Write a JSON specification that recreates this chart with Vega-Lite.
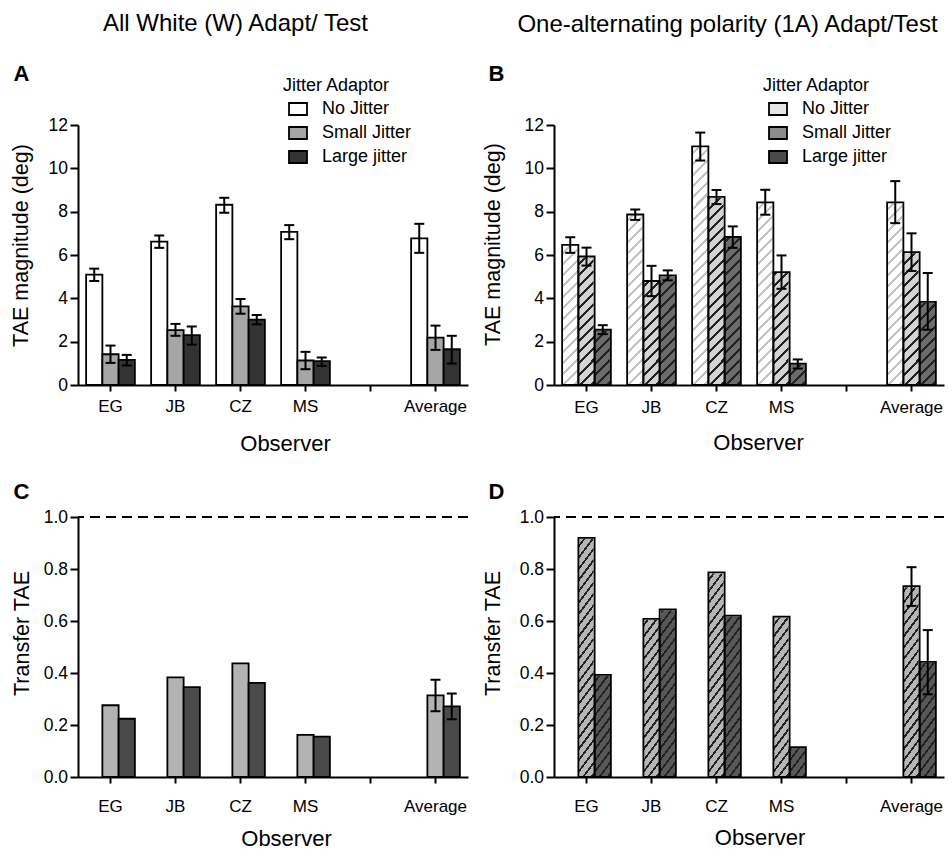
{
  "$schema": "https://vega.github.io/schema/vega-lite/v6.json",
  "autosize": {"type": "none"},
  "padding": {"left": 78, "top": 125, "right": 874, "bottom": 726},
  "bounds": "flush",
  "columns": 2,
  "spacing": {"row": 132, "column": 86},
  "resolve": {"scale": {"fill": "independent"}, "legend": {"fill": "independent"}},
  "config": {
    "font": "Liberation Sans",
    "view": {"stroke": null},
    "axis": {"domainColor": "black", "domainWidth": 2, "tickColor": "black", "tickWidth": 2, "labelColor": "black", "titleColor": "black", "grid": false, "titleFontWeight": "normal", "labelOverlap": false},
    "legend": {"titleColor": "black", "labelColor": "black", "titleFontSize": 18, "titleFontWeight": "normal", "labelFontSize": 18, "symbolType": "M-1,-0.667H1V0.667H-1Z", "symbolSize": 324, "symbolStrokeColor": "black", "symbolStrokeWidth": 1.8, "rowPadding": 4, "labelOffset": 14, "titlePadding": 4, "padding": 0, "symbolOffset": 5}
  },
  "datasets": {
    "A": [
      {"obs": "EG", "cond": "No Jitter", "value": 5.09, "lo": 4.8, "hi": 5.37},
      {"obs": "EG", "cond": "Small Jitter", "value": 1.42, "lo": 1.02, "hi": 1.82},
      {"obs": "EG", "cond": "Large jitter", "value": 1.16, "lo": 0.9, "hi": 1.39},
      {"obs": "JB", "cond": "No Jitter", "value": 6.62, "lo": 6.33, "hi": 6.9},
      {"obs": "JB", "cond": "Small Jitter", "value": 2.53, "lo": 2.27, "hi": 2.82},
      {"obs": "JB", "cond": "Large jitter", "value": 2.3, "lo": 1.86, "hi": 2.7},
      {"obs": "CZ", "cond": "No Jitter", "value": 8.32, "lo": 7.95, "hi": 8.64},
      {"obs": "CZ", "cond": "Small Jitter", "value": 3.63, "lo": 3.29, "hi": 3.97},
      {"obs": "CZ", "cond": "Large jitter", "value": 3.02, "lo": 2.8, "hi": 3.23},
      {"obs": "MS", "cond": "No Jitter", "value": 7.07, "lo": 6.73, "hi": 7.38},
      {"obs": "MS", "cond": "Small Jitter", "value": 1.13, "lo": 0.73, "hi": 1.53},
      {"obs": "MS", "cond": "Large jitter", "value": 1.1, "lo": 0.88, "hi": 1.27},
      {"obs": "Average", "cond": "No Jitter", "value": 6.77, "lo": 6.1, "hi": 7.44},
      {"obs": "Average", "cond": "Small Jitter", "value": 2.19, "lo": 1.62, "hi": 2.74},
      {"obs": "Average", "cond": "Large jitter", "value": 1.65, "lo": 0.99, "hi": 2.27}
    ],
    "B": [
      {"obs": "EG", "cond": "No Jitter", "value": 6.47, "lo": 6.1, "hi": 6.82},
      {"obs": "EG", "cond": "Small Jitter", "value": 5.93, "lo": 5.51, "hi": 6.34},
      {"obs": "EG", "cond": "Large jitter", "value": 2.55, "lo": 2.35, "hi": 2.76},
      {"obs": "JB", "cond": "No Jitter", "value": 7.87, "lo": 7.62, "hi": 8.1},
      {"obs": "JB", "cond": "Small Jitter", "value": 4.8, "lo": 4.1, "hi": 5.5},
      {"obs": "JB", "cond": "Large jitter", "value": 5.06, "lo": 4.83, "hi": 5.29},
      {"obs": "CZ", "cond": "No Jitter", "value": 11.01, "lo": 10.36, "hi": 11.65},
      {"obs": "CZ", "cond": "Small Jitter", "value": 8.68, "lo": 8.35, "hi": 9.0},
      {"obs": "CZ", "cond": "Large jitter", "value": 6.83, "lo": 6.33, "hi": 7.32},
      {"obs": "MS", "cond": "No Jitter", "value": 8.43, "lo": 7.86, "hi": 9.01},
      {"obs": "MS", "cond": "Small Jitter", "value": 5.21, "lo": 4.44, "hi": 5.98},
      {"obs": "MS", "cond": "Large jitter", "value": 0.98, "lo": 0.76, "hi": 1.18},
      {"obs": "Average", "cond": "No Jitter", "value": 8.43, "lo": 7.47, "hi": 9.41},
      {"obs": "Average", "cond": "Small Jitter", "value": 6.13, "lo": 5.26, "hi": 7.0},
      {"obs": "Average", "cond": "Large jitter", "value": 3.84, "lo": 2.55, "hi": 5.17}
    ],
    "C": [
      {"obs": "EG", "cond": "Small Jitter", "value": 0.276},
      {"obs": "EG", "cond": "Large jitter", "value": 0.224},
      {"obs": "JB", "cond": "Small Jitter", "value": 0.383},
      {"obs": "JB", "cond": "Large jitter", "value": 0.346},
      {"obs": "CZ", "cond": "Small Jitter", "value": 0.437},
      {"obs": "CZ", "cond": "Large jitter", "value": 0.362},
      {"obs": "MS", "cond": "Small Jitter", "value": 0.162},
      {"obs": "MS", "cond": "Large jitter", "value": 0.155},
      {"obs": "Average", "cond": "Small Jitter", "value": 0.314, "lo": 0.253, "hi": 0.374},
      {"obs": "Average", "cond": "Large jitter", "value": 0.272, "lo": 0.222, "hi": 0.321}
    ],
    "D": [
      {"obs": "EG", "cond": "Small Jitter", "value": 0.92},
      {"obs": "EG", "cond": "Large jitter", "value": 0.393},
      {"obs": "JB", "cond": "Small Jitter", "value": 0.608},
      {"obs": "JB", "cond": "Large jitter", "value": 0.645},
      {"obs": "CZ", "cond": "Small Jitter", "value": 0.787},
      {"obs": "CZ", "cond": "Large jitter", "value": 0.621},
      {"obs": "MS", "cond": "Small Jitter", "value": 0.617},
      {"obs": "MS", "cond": "Large jitter", "value": 0.115},
      {"obs": "Average", "cond": "Small Jitter", "value": 0.734, "lo": 0.658, "hi": 0.807},
      {"obs": "Average", "cond": "Large jitter", "value": 0.443, "lo": 0.318, "hi": 0.565}
    ]
  },
  "concat": [
    {
      "data": {"name": "A"},
      "width": 390,
      "height": 260,
      "layer": [
        {
          "mark": {"type": "bar", "stroke": "black", "strokeWidth": 1.8},
          "encoding": {
            "x": {"field": "obs", "type": "nominal", "scale": {"domain": ["EG", "JB", "CZ", "MS", "gap", "Average"], "paddingInner": 0, "paddingOuter": 0},
              "axis": {"title": "Observer", "titleFontSize": 22, "titleX": 207, "titleY": 65, "titleAlign": "center", "titleBaseline": "alphabetic", "labelFontSize": 17, "labelAngle": 0, "labelBaseline": "alphabetic", "labelPadding": 20.5, "tickSize": 6, "labelExpr": "datum.value == 'gap' ? '' : datum.value"}},
            "xOffset": {"field": "cond", "type": "nominal", "scale": {"domain": ["No Jitter", "Small Jitter", "Large jitter"], "paddingOuter": 0.5, "paddingInner": 0}},
            "y": {"field": "value", "type": "quantitative", "scale": {"domain": [0, 12], "nice": false},
              "axis": {"title": "TAE magnitude (deg)", "titleFontSize": 21.5, "titleAngle": -90, "titleAlign": "center", "titleBaseline": "alphabetic", "titleX": -51, "titleY": 120, "values": [0, 2, 4, 6, 8, 10, 12], "labelFontSize": 17.5, "labelPadding": 2.5, "tickSize": 8}},
            "fill": {"field": "cond", "type": "nominal", "scale": {"domain": ["No Jitter", "Small Jitter", "Large jitter"], "range": ["#ffffff", "#a6a6a6", "#333333"]},
              "legend": {"title": "Jitter Adaptor", "orient": "none", "legendX": 205, "legendY": -48}}
          }
        },
        {
          "mark": {"type": "rule", "strokeWidth": 2, "color": "black"},
          "encoding": {
            "x": {"field": "obs", "type": "nominal", "axis": {"orient": "top", "title": "All White (W) Adapt/ Test", "domain": false, "ticks": false, "labels": false, "titleFontSize": 24, "titleAlign": "center", "titleBaseline": "alphabetic", "titleX": 157, "titleY": -95}},
            "xOffset": {"field": "cond", "type": "nominal"},
            "y": {"field": "lo", "type": "quantitative", "axis": {"orient": "right", "title": "A", "domain": false, "ticks": false, "labels": false, "titleAngle": 0, "titleFontSize": 22, "titleFontWeight": "bold", "titleAlign": "left", "titleBaseline": "alphabetic", "titleX": -455, "titleY": -45}},
            "y2": {"field": "hi"}
          }
        },
        {
          "mark": {"type": "tick", "orient": "horizontal", "thickness": 2, "size": 10, "color": "black", "opacity": 1},
          "encoding": {
            "x": {"field": "obs", "type": "nominal", "axis": null},
            "xOffset": {"field": "cond", "type": "nominal"},
            "y": {"field": "lo", "type": "quantitative", "axis": null}
          }
        },
        {
          "mark": {"type": "tick", "orient": "horizontal", "thickness": 2, "size": 10, "color": "black", "opacity": 1},
          "encoding": {
            "x": {"field": "obs", "type": "nominal", "axis": null},
            "xOffset": {"field": "cond", "type": "nominal"},
            "y": {"field": "hi", "type": "quantitative", "axis": null}
          }
        }
      ],
      "resolve": {"axis": {"x": "independent", "y": "independent"}}
    },
    {
      "data": {"name": "B"},
      "width": 390,
      "height": 260,
      "layer": [
        {
          "mark": {"type": "bar"},
          "encoding": {
            "x": {"field": "obs", "type": "nominal", "scale": {"domain": ["EG", "JB", "CZ", "MS", "gap", "Average"], "paddingInner": 0, "paddingOuter": 0}, "axis": null},
            "xOffset": {"field": "cond", "type": "nominal", "scale": {"domain": ["No Jitter", "Small Jitter", "Large jitter"], "paddingOuter": 0.5, "paddingInner": 0}},
            "y": {"datum": 12, "type": "quantitative", "scale": {"domain": [0, 12], "nice": false}, "axis": null},
            "y2": {"datum": 0},
            "fill": {
              "condition": [
                {"test": "datum.cond === 'No Jitter'", "value": {"gradient": "linear", "x1": 0, "y1": 0, "x2": 0.0662, "y2": 1.0584, "stops": [{"offset":0.02,"color":"#fff"},{"offset":0.02,"color":"#c4c4c4"},{"offset":0.031,"color":"#c4c4c4"},{"offset":0.031,"color":"#fff"},{"offset":0.06,"color":"#fff"},{"offset":0.06,"color":"#c4c4c4"},{"offset":0.071,"color":"#c4c4c4"},{"offset":0.071,"color":"#fff"},{"offset":0.1,"color":"#fff"},{"offset":0.1,"color":"#c4c4c4"},{"offset":0.111,"color":"#c4c4c4"},{"offset":0.111,"color":"#fff"},{"offset":0.14,"color":"#fff"},{"offset":0.14,"color":"#c4c4c4"},{"offset":0.151,"color":"#c4c4c4"},{"offset":0.151,"color":"#fff"},{"offset":0.18,"color":"#fff"},{"offset":0.18,"color":"#c4c4c4"},{"offset":0.191,"color":"#c4c4c4"},{"offset":0.191,"color":"#fff"},{"offset":0.22,"color":"#fff"},{"offset":0.22,"color":"#c4c4c4"},{"offset":0.231,"color":"#c4c4c4"},{"offset":0.231,"color":"#fff"},{"offset":0.26,"color":"#fff"},{"offset":0.26,"color":"#c4c4c4"},{"offset":0.271,"color":"#c4c4c4"},{"offset":0.271,"color":"#fff"},{"offset":0.3,"color":"#fff"},{"offset":0.3,"color":"#c4c4c4"},{"offset":0.311,"color":"#c4c4c4"},{"offset":0.311,"color":"#fff"},{"offset":0.34,"color":"#fff"},{"offset":0.34,"color":"#c4c4c4"},{"offset":0.351,"color":"#c4c4c4"},{"offset":0.351,"color":"#fff"},{"offset":0.38,"color":"#fff"},{"offset":0.38,"color":"#c4c4c4"},{"offset":0.391,"color":"#c4c4c4"},{"offset":0.391,"color":"#fff"},{"offset":0.42,"color":"#fff"},{"offset":0.42,"color":"#c4c4c4"},{"offset":0.431,"color":"#c4c4c4"},{"offset":0.431,"color":"#fff"},{"offset":0.46,"color":"#fff"},{"offset":0.46,"color":"#c4c4c4"},{"offset":0.471,"color":"#c4c4c4"},{"offset":0.471,"color":"#fff"},{"offset":0.5,"color":"#fff"},{"offset":0.5,"color":"#c4c4c4"},{"offset":0.511,"color":"#c4c4c4"},{"offset":0.511,"color":"#fff"},{"offset":0.54,"color":"#fff"},{"offset":0.54,"color":"#c4c4c4"},{"offset":0.551,"color":"#c4c4c4"},{"offset":0.551,"color":"#fff"},{"offset":0.58,"color":"#fff"},{"offset":0.58,"color":"#c4c4c4"},{"offset":0.591,"color":"#c4c4c4"},{"offset":0.591,"color":"#fff"},{"offset":0.62,"color":"#fff"},{"offset":0.62,"color":"#c4c4c4"},{"offset":0.631,"color":"#c4c4c4"},{"offset":0.631,"color":"#fff"},{"offset":0.66,"color":"#fff"},{"offset":0.66,"color":"#c4c4c4"},{"offset":0.671,"color":"#c4c4c4"},{"offset":0.671,"color":"#fff"},{"offset":0.7,"color":"#fff"},{"offset":0.7,"color":"#c4c4c4"},{"offset":0.711,"color":"#c4c4c4"},{"offset":0.711,"color":"#fff"},{"offset":0.74,"color":"#fff"},{"offset":0.74,"color":"#c4c4c4"},{"offset":0.751,"color":"#c4c4c4"},{"offset":0.751,"color":"#fff"},{"offset":0.78,"color":"#fff"},{"offset":0.78,"color":"#c4c4c4"},{"offset":0.791,"color":"#c4c4c4"},{"offset":0.791,"color":"#fff"},{"offset":0.82,"color":"#fff"},{"offset":0.82,"color":"#c4c4c4"},{"offset":0.831,"color":"#c4c4c4"},{"offset":0.831,"color":"#fff"},{"offset":0.86,"color":"#fff"},{"offset":0.86,"color":"#c4c4c4"},{"offset":0.871,"color":"#c4c4c4"},{"offset":0.871,"color":"#fff"},{"offset":0.9,"color":"#fff"},{"offset":0.9,"color":"#c4c4c4"},{"offset":0.911,"color":"#c4c4c4"},{"offset":0.911,"color":"#fff"},{"offset":0.94,"color":"#fff"},{"offset":0.94,"color":"#c4c4c4"},{"offset":0.951,"color":"#c4c4c4"},{"offset":0.951,"color":"#fff"},{"offset":0.98,"color":"#fff"},{"offset":0.98,"color":"#c4c4c4"},{"offset":0.991,"color":"#c4c4c4"},{"offset":0.991,"color":"#fff"}]}},
                {"test": "datum.cond === 'Small Jitter'", "value": {"gradient": "linear", "x1": 0, "y1": 0, "x2": 0.0662, "y2": 1.0584, "stops": [{"offset":0.02,"color":"#d4d4d4"},{"offset":0.02,"color":"#222"},{"offset":0.031,"color":"#222"},{"offset":0.031,"color":"#d4d4d4"},{"offset":0.06,"color":"#d4d4d4"},{"offset":0.06,"color":"#222"},{"offset":0.071,"color":"#222"},{"offset":0.071,"color":"#d4d4d4"},{"offset":0.1,"color":"#d4d4d4"},{"offset":0.1,"color":"#222"},{"offset":0.111,"color":"#222"},{"offset":0.111,"color":"#d4d4d4"},{"offset":0.14,"color":"#d4d4d4"},{"offset":0.14,"color":"#222"},{"offset":0.151,"color":"#222"},{"offset":0.151,"color":"#d4d4d4"},{"offset":0.18,"color":"#d4d4d4"},{"offset":0.18,"color":"#222"},{"offset":0.191,"color":"#222"},{"offset":0.191,"color":"#d4d4d4"},{"offset":0.22,"color":"#d4d4d4"},{"offset":0.22,"color":"#222"},{"offset":0.231,"color":"#222"},{"offset":0.231,"color":"#d4d4d4"},{"offset":0.26,"color":"#d4d4d4"},{"offset":0.26,"color":"#222"},{"offset":0.271,"color":"#222"},{"offset":0.271,"color":"#d4d4d4"},{"offset":0.3,"color":"#d4d4d4"},{"offset":0.3,"color":"#222"},{"offset":0.311,"color":"#222"},{"offset":0.311,"color":"#d4d4d4"},{"offset":0.34,"color":"#d4d4d4"},{"offset":0.34,"color":"#222"},{"offset":0.351,"color":"#222"},{"offset":0.351,"color":"#d4d4d4"},{"offset":0.38,"color":"#d4d4d4"},{"offset":0.38,"color":"#222"},{"offset":0.391,"color":"#222"},{"offset":0.391,"color":"#d4d4d4"},{"offset":0.42,"color":"#d4d4d4"},{"offset":0.42,"color":"#222"},{"offset":0.431,"color":"#222"},{"offset":0.431,"color":"#d4d4d4"},{"offset":0.46,"color":"#d4d4d4"},{"offset":0.46,"color":"#222"},{"offset":0.471,"color":"#222"},{"offset":0.471,"color":"#d4d4d4"},{"offset":0.5,"color":"#d4d4d4"},{"offset":0.5,"color":"#222"},{"offset":0.511,"color":"#222"},{"offset":0.511,"color":"#d4d4d4"},{"offset":0.54,"color":"#d4d4d4"},{"offset":0.54,"color":"#222"},{"offset":0.551,"color":"#222"},{"offset":0.551,"color":"#d4d4d4"},{"offset":0.58,"color":"#d4d4d4"},{"offset":0.58,"color":"#222"},{"offset":0.591,"color":"#222"},{"offset":0.591,"color":"#d4d4d4"},{"offset":0.62,"color":"#d4d4d4"},{"offset":0.62,"color":"#222"},{"offset":0.631,"color":"#222"},{"offset":0.631,"color":"#d4d4d4"},{"offset":0.66,"color":"#d4d4d4"},{"offset":0.66,"color":"#222"},{"offset":0.671,"color":"#222"},{"offset":0.671,"color":"#d4d4d4"},{"offset":0.7,"color":"#d4d4d4"},{"offset":0.7,"color":"#222"},{"offset":0.711,"color":"#222"},{"offset":0.711,"color":"#d4d4d4"},{"offset":0.74,"color":"#d4d4d4"},{"offset":0.74,"color":"#222"},{"offset":0.751,"color":"#222"},{"offset":0.751,"color":"#d4d4d4"},{"offset":0.78,"color":"#d4d4d4"},{"offset":0.78,"color":"#222"},{"offset":0.791,"color":"#222"},{"offset":0.791,"color":"#d4d4d4"},{"offset":0.82,"color":"#d4d4d4"},{"offset":0.82,"color":"#222"},{"offset":0.831,"color":"#222"},{"offset":0.831,"color":"#d4d4d4"},{"offset":0.86,"color":"#d4d4d4"},{"offset":0.86,"color":"#222"},{"offset":0.871,"color":"#222"},{"offset":0.871,"color":"#d4d4d4"},{"offset":0.9,"color":"#d4d4d4"},{"offset":0.9,"color":"#222"},{"offset":0.911,"color":"#222"},{"offset":0.911,"color":"#d4d4d4"},{"offset":0.94,"color":"#d4d4d4"},{"offset":0.94,"color":"#222"},{"offset":0.951,"color":"#222"},{"offset":0.951,"color":"#d4d4d4"},{"offset":0.98,"color":"#d4d4d4"},{"offset":0.98,"color":"#222"},{"offset":0.991,"color":"#222"},{"offset":0.991,"color":"#d4d4d4"}]}}
              ],
              "value": {"gradient": "linear", "x1": 0, "y1": 0, "x2": 0.0662, "y2": 1.0584, "stops": [{"offset":0.02,"color":"#6c6c6c"},{"offset":0.02,"color":"#222"},{"offset":0.031,"color":"#222"},{"offset":0.031,"color":"#6c6c6c"},{"offset":0.06,"color":"#6c6c6c"},{"offset":0.06,"color":"#222"},{"offset":0.071,"color":"#222"},{"offset":0.071,"color":"#6c6c6c"},{"offset":0.1,"color":"#6c6c6c"},{"offset":0.1,"color":"#222"},{"offset":0.111,"color":"#222"},{"offset":0.111,"color":"#6c6c6c"},{"offset":0.14,"color":"#6c6c6c"},{"offset":0.14,"color":"#222"},{"offset":0.151,"color":"#222"},{"offset":0.151,"color":"#6c6c6c"},{"offset":0.18,"color":"#6c6c6c"},{"offset":0.18,"color":"#222"},{"offset":0.191,"color":"#222"},{"offset":0.191,"color":"#6c6c6c"},{"offset":0.22,"color":"#6c6c6c"},{"offset":0.22,"color":"#222"},{"offset":0.231,"color":"#222"},{"offset":0.231,"color":"#6c6c6c"},{"offset":0.26,"color":"#6c6c6c"},{"offset":0.26,"color":"#222"},{"offset":0.271,"color":"#222"},{"offset":0.271,"color":"#6c6c6c"},{"offset":0.3,"color":"#6c6c6c"},{"offset":0.3,"color":"#222"},{"offset":0.311,"color":"#222"},{"offset":0.311,"color":"#6c6c6c"},{"offset":0.34,"color":"#6c6c6c"},{"offset":0.34,"color":"#222"},{"offset":0.351,"color":"#222"},{"offset":0.351,"color":"#6c6c6c"},{"offset":0.38,"color":"#6c6c6c"},{"offset":0.38,"color":"#222"},{"offset":0.391,"color":"#222"},{"offset":0.391,"color":"#6c6c6c"},{"offset":0.42,"color":"#6c6c6c"},{"offset":0.42,"color":"#222"},{"offset":0.431,"color":"#222"},{"offset":0.431,"color":"#6c6c6c"},{"offset":0.46,"color":"#6c6c6c"},{"offset":0.46,"color":"#222"},{"offset":0.471,"color":"#222"},{"offset":0.471,"color":"#6c6c6c"},{"offset":0.5,"color":"#6c6c6c"},{"offset":0.5,"color":"#222"},{"offset":0.511,"color":"#222"},{"offset":0.511,"color":"#6c6c6c"},{"offset":0.54,"color":"#6c6c6c"},{"offset":0.54,"color":"#222"},{"offset":0.551,"color":"#222"},{"offset":0.551,"color":"#6c6c6c"},{"offset":0.58,"color":"#6c6c6c"},{"offset":0.58,"color":"#222"},{"offset":0.591,"color":"#222"},{"offset":0.591,"color":"#6c6c6c"},{"offset":0.62,"color":"#6c6c6c"},{"offset":0.62,"color":"#222"},{"offset":0.631,"color":"#222"},{"offset":0.631,"color":"#6c6c6c"},{"offset":0.66,"color":"#6c6c6c"},{"offset":0.66,"color":"#222"},{"offset":0.671,"color":"#222"},{"offset":0.671,"color":"#6c6c6c"},{"offset":0.7,"color":"#6c6c6c"},{"offset":0.7,"color":"#222"},{"offset":0.711,"color":"#222"},{"offset":0.711,"color":"#6c6c6c"},{"offset":0.74,"color":"#6c6c6c"},{"offset":0.74,"color":"#222"},{"offset":0.751,"color":"#222"},{"offset":0.751,"color":"#6c6c6c"},{"offset":0.78,"color":"#6c6c6c"},{"offset":0.78,"color":"#222"},{"offset":0.791,"color":"#222"},{"offset":0.791,"color":"#6c6c6c"},{"offset":0.82,"color":"#6c6c6c"},{"offset":0.82,"color":"#222"},{"offset":0.831,"color":"#222"},{"offset":0.831,"color":"#6c6c6c"},{"offset":0.86,"color":"#6c6c6c"},{"offset":0.86,"color":"#222"},{"offset":0.871,"color":"#222"},{"offset":0.871,"color":"#6c6c6c"},{"offset":0.9,"color":"#6c6c6c"},{"offset":0.9,"color":"#222"},{"offset":0.911,"color":"#222"},{"offset":0.911,"color":"#6c6c6c"},{"offset":0.94,"color":"#6c6c6c"},{"offset":0.94,"color":"#222"},{"offset":0.951,"color":"#222"},{"offset":0.951,"color":"#6c6c6c"},{"offset":0.98,"color":"#6c6c6c"},{"offset":0.98,"color":"#222"},{"offset":0.991,"color":"#222"},{"offset":0.991,"color":"#6c6c6c"}]}
            }
          }
        },
        {
          "mark": {"type": "bar", "fill": "white", "stroke": "white", "strokeWidth": 2},
          "encoding": {
            "x": {"field": "obs", "type": "nominal", "axis": null},
            "xOffset": {"field": "cond", "type": "nominal"},
            "y": {"field": "value", "type": "quantitative", "axis": null},
            "y2": {"datum": 12}
          }
        },
        {
          "mark": {"type": "bar", "fill": "transparent", "stroke": "black", "strokeWidth": 1.8},
          "encoding": {
            "x": {"field": "obs", "type": "nominal",
              "axis": {"title": "Observer", "titleFontSize": 22, "titleX": 204, "titleY": 64.5, "titleAlign": "center", "titleBaseline": "alphabetic", "labelFontSize": 17, "labelAngle": 0, "labelBaseline": "alphabetic", "labelPadding": 21.5, "tickSize": 6, "labelExpr": "datum.value == 'gap' ? '' : datum.value"}},
            "xOffset": {"field": "cond", "type": "nominal"},
            "y": {"field": "value", "type": "quantitative",
              "axis": {"title": "TAE magnitude (deg)", "titleFontSize": 21.5, "titleAngle": -90, "titleAlign": "center", "titleBaseline": "alphabetic", "titleX": -55, "titleY": 119, "values": [0, 2, 4, 6, 8, 10, 12], "labelFontSize": 17.5, "labelPadding": 2.5, "tickSize": 8}}
          }
        },
        {
          "mark": {"type": "bar", "stroke": "black", "strokeWidth": 1.8},
          "encoding": {
            "x": {"field": "obs", "type": "nominal", "axis": null},
            "xOffset": {"field": "cond", "type": "nominal"},
            "y": {"datum": 0, "type": "quantitative", "axis": null},
            "y2": {"datum": 0},
            "fill": {"field": "cond", "type": "nominal",
              "scale": {"domain": ["No Jitter", "Small Jitter", "Large jitter"], "range": ["#e6e6e6", "#8c8c8c", "#4a4a4a"]},
              "legend": {"title": "Jitter Adaptor", "orient": "none", "legendX": 209, "legendY": -48,
                "encode": {"symbols": {"update": {"stroke": {"value": "black"}, "strokeWidth": {"value": 1.8}, "fill": {"signal": "datum.value === 'No Jitter' ? {gradient:'linear',x1:0,y1:0,x2:1.154,y2:0.769,stops:[{offset:0.08,color:'#fff'},{offset:0.08,color:'#c4c4c4'},{offset:0.17,color:'#c4c4c4'},{offset:0.17,color:'#fff'},{offset:0.33,color:'#fff'},{offset:0.33,color:'#c4c4c4'},{offset:0.42,color:'#c4c4c4'},{offset:0.42,color:'#fff'},{offset:0.58,color:'#fff'},{offset:0.58,color:'#c4c4c4'},{offset:0.67,color:'#c4c4c4'},{offset:0.67,color:'#fff'},{offset:0.83,color:'#fff'},{offset:0.83,color:'#c4c4c4'},{offset:0.92,color:'#c4c4c4'},{offset:0.92,color:'#fff'}]} : datum.value === 'Small Jitter' ? {gradient:'linear',x1:0,y1:0,x2:1.154,y2:0.769,stops:[{offset:0.08,color:'#bdbdbd'},{offset:0.08,color:'#222'},{offset:0.17,color:'#222'},{offset:0.17,color:'#bdbdbd'},{offset:0.33,color:'#bdbdbd'},{offset:0.33,color:'#222'},{offset:0.42,color:'#222'},{offset:0.42,color:'#bdbdbd'},{offset:0.58,color:'#bdbdbd'},{offset:0.58,color:'#222'},{offset:0.67,color:'#222'},{offset:0.67,color:'#bdbdbd'},{offset:0.83,color:'#bdbdbd'},{offset:0.83,color:'#222'},{offset:0.92,color:'#222'},{offset:0.92,color:'#bdbdbd'}]} : {gradient:'linear',x1:0,y1:0,x2:1.154,y2:0.769,stops:[{offset:0.08,color:'#606060'},{offset:0.08,color:'#222'},{offset:0.17,color:'#222'},{offset:0.17,color:'#606060'},{offset:0.33,color:'#606060'},{offset:0.33,color:'#222'},{offset:0.42,color:'#222'},{offset:0.42,color:'#606060'},{offset:0.58,color:'#606060'},{offset:0.58,color:'#222'},{offset:0.67,color:'#222'},{offset:0.67,color:'#606060'},{offset:0.83,color:'#606060'},{offset:0.83,color:'#222'},{offset:0.92,color:'#222'},{offset:0.92,color:'#606060'}]}"}}}}}}
          }
        },
        {
          "mark": {"type": "rule", "strokeWidth": 2, "color": "black"},
          "encoding": {
            "x": {"field": "obs", "type": "nominal", "axis": {"orient": "top", "title": "One-alternating polarity (1A) Adapt/Test", "domain": false, "ticks": false, "labels": false, "titleFontSize": 24, "titleAlign": "center", "titleBaseline": "alphabetic", "titleX": 173, "titleY": -93.5}},
            "xOffset": {"field": "cond", "type": "nominal"},
            "y": {"field": "lo", "type": "quantitative", "axis": {"orient": "right", "title": "B", "domain": false, "ticks": false, "labels": false, "titleAngle": 0, "titleFontSize": 22, "titleFontWeight": "bold", "titleAlign": "left", "titleBaseline": "alphabetic", "titleX": -456, "titleY": -45}},
            "y2": {"field": "hi"}
          }
        },
        {
          "mark": {"type": "tick", "orient": "horizontal", "thickness": 2, "size": 10, "color": "black", "opacity": 1},
          "encoding": {
            "x": {"field": "obs", "type": "nominal", "axis": null},
            "xOffset": {"field": "cond", "type": "nominal"},
            "y": {"field": "lo", "type": "quantitative", "axis": null}
          }
        },
        {
          "mark": {"type": "tick", "orient": "horizontal", "thickness": 2, "size": 10, "color": "black", "opacity": 1},
          "encoding": {
            "x": {"field": "obs", "type": "nominal", "axis": null},
            "xOffset": {"field": "cond", "type": "nominal"},
            "y": {"field": "hi", "type": "quantitative", "axis": null}
          }
        }
      ],
      "resolve": {"axis": {"x": "independent", "y": "independent"}}
    },
    {
      "data": {"name": "C"},
      "width": 390,
      "height": 260,
      "layer": [
        {
          "mark": {"type": "bar", "stroke": "black", "strokeWidth": 1.8},
          "encoding": {
            "x": {"field": "obs", "type": "nominal", "scale": {"domain": ["EG", "JB", "CZ", "MS", "gap", "Average"], "paddingInner": 0, "paddingOuter": 0},
              "axis": {"title": "Observer", "titleFontSize": 22, "titleX": 208, "titleY": 68, "titleAlign": "center", "titleBaseline": "alphabetic", "labelFontSize": 17, "labelAngle": 0, "labelBaseline": "alphabetic", "labelPadding": 28, "tickSize": 6, "labelExpr": "datum.value == 'gap' ? '' : datum.value"}},
            "xOffset": {"field": "cond", "type": "nominal", "scale": {"domain": ["Small Jitter", "Large jitter"], "paddingOuter": 0.5, "paddingInner": 0}},
            "y": {"field": "value", "type": "quantitative", "scale": {"domain": [0, 1], "nice": false},
              "axis": {"title": "Transfer TAE", "titleFontSize": 21.5, "titleAngle": -90, "titleAlign": "center", "titleBaseline": "alphabetic", "titleX": -50, "titleY": 116, "values": [0, 0.2, 0.4, 0.6, 0.8, 1], "format": ".1f", "labelFontSize": 17.5, "labelPadding": 2.5, "tickSize": 8}},
            "fill": {"field": "cond", "type": "nominal", "scale": {"domain": ["Small Jitter", "Large jitter"], "range": ["#b3b3b3", "#4a4a4a"]}, "legend": null}
          }
        },
        {
          "mark": {"type": "rule", "strokeWidth": 2, "strokeDash": [10, 6], "color": "black"},
          "encoding": {"y": {"datum": 1, "type": "quantitative", "axis": null}}
        },
        {
          "transform": [{"filter": "isValid(datum.lo)"}],
          "mark": {"type": "rule", "strokeWidth": 2, "color": "black"},
          "encoding": {
            "x": {"field": "obs", "type": "nominal", "axis": null},
            "xOffset": {"field": "cond", "type": "nominal"},
            "y": {"field": "lo", "type": "quantitative", "axis": {"orient": "right", "title": "C", "domain": false, "ticks": false, "labels": false, "titleAngle": 0, "titleFontSize": 22, "titleFontWeight": "bold", "titleAlign": "left", "titleBaseline": "alphabetic", "titleX": -455, "titleY": -19}},
            "y2": {"field": "hi"}
          }
        },
        {
          "transform": [{"filter": "isValid(datum.lo)"}],
          "mark": {"type": "tick", "orient": "horizontal", "thickness": 2, "size": 10, "color": "black", "opacity": 1},
          "encoding": {
            "x": {"field": "obs", "type": "nominal", "axis": null},
            "xOffset": {"field": "cond", "type": "nominal"},
            "y": {"field": "lo", "type": "quantitative", "axis": null}
          }
        },
        {
          "transform": [{"filter": "isValid(datum.lo)"}],
          "mark": {"type": "tick", "orient": "horizontal", "thickness": 2, "size": 10, "color": "black", "opacity": 1},
          "encoding": {
            "x": {"field": "obs", "type": "nominal", "axis": null},
            "xOffset": {"field": "cond", "type": "nominal"},
            "y": {"field": "hi", "type": "quantitative", "axis": null}
          }
        }
      ],
      "resolve": {"axis": {"x": "independent", "y": "independent"}}
    },
    {
      "data": {"name": "D"},
      "width": 390,
      "height": 260,
      "layer": [
        {
          "mark": {"type": "bar"},
          "encoding": {
            "x": {"field": "obs", "type": "nominal", "scale": {"domain": ["EG", "JB", "CZ", "MS", "gap", "Average"], "paddingInner": 0, "paddingOuter": 0}, "axis": null},
            "xOffset": {"field": "cond", "type": "nominal", "scale": {"domain": ["Small Jitter", "Large jitter"], "paddingOuter": 0.5, "paddingInner": 0}},
            "y": {"datum": 1, "type": "quantitative", "scale": {"domain": [0, 1], "nice": false}, "axis": null},
            "y2": {"datum": 0},
            "fill": {
              "condition": [
                {"test": "datum.cond === 'Small Jitter'", "value": {"gradient": "linear", "x1": 0, "y1": 0, "x2": 0.0897, "y2": 1.0757, "stops": [{"offset":0.02,"color":"#b6b6b6"},{"offset":0.02,"color":"#222"},{"offset":0.031,"color":"#222"},{"offset":0.031,"color":"#b6b6b6"},{"offset":0.06,"color":"#b6b6b6"},{"offset":0.06,"color":"#222"},{"offset":0.071,"color":"#222"},{"offset":0.071,"color":"#b6b6b6"},{"offset":0.1,"color":"#b6b6b6"},{"offset":0.1,"color":"#222"},{"offset":0.111,"color":"#222"},{"offset":0.111,"color":"#b6b6b6"},{"offset":0.14,"color":"#b6b6b6"},{"offset":0.14,"color":"#222"},{"offset":0.151,"color":"#222"},{"offset":0.151,"color":"#b6b6b6"},{"offset":0.18,"color":"#b6b6b6"},{"offset":0.18,"color":"#222"},{"offset":0.191,"color":"#222"},{"offset":0.191,"color":"#b6b6b6"},{"offset":0.22,"color":"#b6b6b6"},{"offset":0.22,"color":"#222"},{"offset":0.231,"color":"#222"},{"offset":0.231,"color":"#b6b6b6"},{"offset":0.26,"color":"#b6b6b6"},{"offset":0.26,"color":"#222"},{"offset":0.271,"color":"#222"},{"offset":0.271,"color":"#b6b6b6"},{"offset":0.3,"color":"#b6b6b6"},{"offset":0.3,"color":"#222"},{"offset":0.311,"color":"#222"},{"offset":0.311,"color":"#b6b6b6"},{"offset":0.34,"color":"#b6b6b6"},{"offset":0.34,"color":"#222"},{"offset":0.351,"color":"#222"},{"offset":0.351,"color":"#b6b6b6"},{"offset":0.38,"color":"#b6b6b6"},{"offset":0.38,"color":"#222"},{"offset":0.391,"color":"#222"},{"offset":0.391,"color":"#b6b6b6"},{"offset":0.42,"color":"#b6b6b6"},{"offset":0.42,"color":"#222"},{"offset":0.431,"color":"#222"},{"offset":0.431,"color":"#b6b6b6"},{"offset":0.46,"color":"#b6b6b6"},{"offset":0.46,"color":"#222"},{"offset":0.471,"color":"#222"},{"offset":0.471,"color":"#b6b6b6"},{"offset":0.5,"color":"#b6b6b6"},{"offset":0.5,"color":"#222"},{"offset":0.511,"color":"#222"},{"offset":0.511,"color":"#b6b6b6"},{"offset":0.54,"color":"#b6b6b6"},{"offset":0.54,"color":"#222"},{"offset":0.551,"color":"#222"},{"offset":0.551,"color":"#b6b6b6"},{"offset":0.58,"color":"#b6b6b6"},{"offset":0.58,"color":"#222"},{"offset":0.591,"color":"#222"},{"offset":0.591,"color":"#b6b6b6"},{"offset":0.62,"color":"#b6b6b6"},{"offset":0.62,"color":"#222"},{"offset":0.631,"color":"#222"},{"offset":0.631,"color":"#b6b6b6"},{"offset":0.66,"color":"#b6b6b6"},{"offset":0.66,"color":"#222"},{"offset":0.671,"color":"#222"},{"offset":0.671,"color":"#b6b6b6"},{"offset":0.7,"color":"#b6b6b6"},{"offset":0.7,"color":"#222"},{"offset":0.711,"color":"#222"},{"offset":0.711,"color":"#b6b6b6"},{"offset":0.74,"color":"#b6b6b6"},{"offset":0.74,"color":"#222"},{"offset":0.751,"color":"#222"},{"offset":0.751,"color":"#b6b6b6"},{"offset":0.78,"color":"#b6b6b6"},{"offset":0.78,"color":"#222"},{"offset":0.791,"color":"#222"},{"offset":0.791,"color":"#b6b6b6"},{"offset":0.82,"color":"#b6b6b6"},{"offset":0.82,"color":"#222"},{"offset":0.831,"color":"#222"},{"offset":0.831,"color":"#b6b6b6"},{"offset":0.86,"color":"#b6b6b6"},{"offset":0.86,"color":"#222"},{"offset":0.871,"color":"#222"},{"offset":0.871,"color":"#b6b6b6"},{"offset":0.9,"color":"#b6b6b6"},{"offset":0.9,"color":"#222"},{"offset":0.911,"color":"#222"},{"offset":0.911,"color":"#b6b6b6"},{"offset":0.94,"color":"#b6b6b6"},{"offset":0.94,"color":"#222"},{"offset":0.951,"color":"#222"},{"offset":0.951,"color":"#b6b6b6"},{"offset":0.98,"color":"#b6b6b6"},{"offset":0.98,"color":"#222"},{"offset":0.991,"color":"#222"},{"offset":0.991,"color":"#b6b6b6"}]}}
              ],
              "value": {"gradient": "linear", "x1": 0, "y1": 0, "x2": 0.0897, "y2": 1.0757, "stops": [{"offset":0.02,"color":"#585858"},{"offset":0.02,"color":"#222"},{"offset":0.031,"color":"#222"},{"offset":0.031,"color":"#585858"},{"offset":0.06,"color":"#585858"},{"offset":0.06,"color":"#222"},{"offset":0.071,"color":"#222"},{"offset":0.071,"color":"#585858"},{"offset":0.1,"color":"#585858"},{"offset":0.1,"color":"#222"},{"offset":0.111,"color":"#222"},{"offset":0.111,"color":"#585858"},{"offset":0.14,"color":"#585858"},{"offset":0.14,"color":"#222"},{"offset":0.151,"color":"#222"},{"offset":0.151,"color":"#585858"},{"offset":0.18,"color":"#585858"},{"offset":0.18,"color":"#222"},{"offset":0.191,"color":"#222"},{"offset":0.191,"color":"#585858"},{"offset":0.22,"color":"#585858"},{"offset":0.22,"color":"#222"},{"offset":0.231,"color":"#222"},{"offset":0.231,"color":"#585858"},{"offset":0.26,"color":"#585858"},{"offset":0.26,"color":"#222"},{"offset":0.271,"color":"#222"},{"offset":0.271,"color":"#585858"},{"offset":0.3,"color":"#585858"},{"offset":0.3,"color":"#222"},{"offset":0.311,"color":"#222"},{"offset":0.311,"color":"#585858"},{"offset":0.34,"color":"#585858"},{"offset":0.34,"color":"#222"},{"offset":0.351,"color":"#222"},{"offset":0.351,"color":"#585858"},{"offset":0.38,"color":"#585858"},{"offset":0.38,"color":"#222"},{"offset":0.391,"color":"#222"},{"offset":0.391,"color":"#585858"},{"offset":0.42,"color":"#585858"},{"offset":0.42,"color":"#222"},{"offset":0.431,"color":"#222"},{"offset":0.431,"color":"#585858"},{"offset":0.46,"color":"#585858"},{"offset":0.46,"color":"#222"},{"offset":0.471,"color":"#222"},{"offset":0.471,"color":"#585858"},{"offset":0.5,"color":"#585858"},{"offset":0.5,"color":"#222"},{"offset":0.511,"color":"#222"},{"offset":0.511,"color":"#585858"},{"offset":0.54,"color":"#585858"},{"offset":0.54,"color":"#222"},{"offset":0.551,"color":"#222"},{"offset":0.551,"color":"#585858"},{"offset":0.58,"color":"#585858"},{"offset":0.58,"color":"#222"},{"offset":0.591,"color":"#222"},{"offset":0.591,"color":"#585858"},{"offset":0.62,"color":"#585858"},{"offset":0.62,"color":"#222"},{"offset":0.631,"color":"#222"},{"offset":0.631,"color":"#585858"},{"offset":0.66,"color":"#585858"},{"offset":0.66,"color":"#222"},{"offset":0.671,"color":"#222"},{"offset":0.671,"color":"#585858"},{"offset":0.7,"color":"#585858"},{"offset":0.7,"color":"#222"},{"offset":0.711,"color":"#222"},{"offset":0.711,"color":"#585858"},{"offset":0.74,"color":"#585858"},{"offset":0.74,"color":"#222"},{"offset":0.751,"color":"#222"},{"offset":0.751,"color":"#585858"},{"offset":0.78,"color":"#585858"},{"offset":0.78,"color":"#222"},{"offset":0.791,"color":"#222"},{"offset":0.791,"color":"#585858"},{"offset":0.82,"color":"#585858"},{"offset":0.82,"color":"#222"},{"offset":0.831,"color":"#222"},{"offset":0.831,"color":"#585858"},{"offset":0.86,"color":"#585858"},{"offset":0.86,"color":"#222"},{"offset":0.871,"color":"#222"},{"offset":0.871,"color":"#585858"},{"offset":0.9,"color":"#585858"},{"offset":0.9,"color":"#222"},{"offset":0.911,"color":"#222"},{"offset":0.911,"color":"#585858"},{"offset":0.94,"color":"#585858"},{"offset":0.94,"color":"#222"},{"offset":0.951,"color":"#222"},{"offset":0.951,"color":"#585858"},{"offset":0.98,"color":"#585858"},{"offset":0.98,"color":"#222"},{"offset":0.991,"color":"#222"},{"offset":0.991,"color":"#585858"}]}
            }
          }
        },
        {
          "mark": {"type": "bar", "fill": "white", "stroke": "white", "strokeWidth": 2},
          "encoding": {
            "x": {"field": "obs", "type": "nominal", "axis": null},
            "xOffset": {"field": "cond", "type": "nominal"},
            "y": {"field": "value", "type": "quantitative", "axis": null},
            "y2": {"datum": 1}
          }
        },
        {
          "mark": {"type": "bar", "fill": "transparent", "stroke": "black", "strokeWidth": 1.8},
          "encoding": {
            "x": {"field": "obs", "type": "nominal",
              "axis": {"title": "Observer", "titleFontSize": 22, "titleX": 205.5, "titleY": 67, "titleAlign": "center", "titleBaseline": "alphabetic", "labelFontSize": 17, "labelAngle": 0, "labelBaseline": "alphabetic", "labelPadding": 28, "tickSize": 6, "labelExpr": "datum.value == 'gap' ? '' : datum.value"}},
            "xOffset": {"field": "cond", "type": "nominal"},
            "y": {"field": "value", "type": "quantitative",
              "axis": {"title": "Transfer TAE", "titleFontSize": 21.5, "titleAngle": -90, "titleAlign": "center", "titleBaseline": "alphabetic", "titleX": -55, "titleY": 116, "values": [0, 0.2, 0.4, 0.6, 0.8, 1], "format": ".1f", "labelFontSize": 17.5, "labelPadding": 2.5, "tickSize": 8}}
          }
        },
        {
          "mark": {"type": "rule", "strokeWidth": 2, "strokeDash": [10, 6], "color": "black"},
          "encoding": {"y": {"datum": 1, "type": "quantitative", "axis": null}}
        },
        {
          "transform": [{"filter": "isValid(datum.lo)"}],
          "mark": {"type": "rule", "strokeWidth": 2, "color": "black"},
          "encoding": {
            "x": {"field": "obs", "type": "nominal", "axis": null},
            "xOffset": {"field": "cond", "type": "nominal"},
            "y": {"field": "lo", "type": "quantitative", "axis": {"orient": "right", "title": "D", "domain": false, "ticks": false, "labels": false, "titleAngle": 0, "titleFontSize": 22, "titleFontWeight": "bold", "titleAlign": "left", "titleBaseline": "alphabetic", "titleX": -456, "titleY": -19}},
            "y2": {"field": "hi"}
          }
        },
        {
          "transform": [{"filter": "isValid(datum.lo)"}],
          "mark": {"type": "tick", "orient": "horizontal", "thickness": 2, "size": 10, "color": "black", "opacity": 1},
          "encoding": {
            "x": {"field": "obs", "type": "nominal", "axis": null},
            "xOffset": {"field": "cond", "type": "nominal"},
            "y": {"field": "lo", "type": "quantitative", "axis": null}
          }
        },
        {
          "transform": [{"filter": "isValid(datum.lo)"}],
          "mark": {"type": "tick", "orient": "horizontal", "thickness": 2, "size": 10, "color": "black", "opacity": 1},
          "encoding": {
            "x": {"field": "obs", "type": "nominal", "axis": null},
            "xOffset": {"field": "cond", "type": "nominal"},
            "y": {"field": "hi", "type": "quantitative", "axis": null}
          }
        }
      ],
      "resolve": {"axis": {"x": "independent", "y": "independent"}}
    }
  ]
}
